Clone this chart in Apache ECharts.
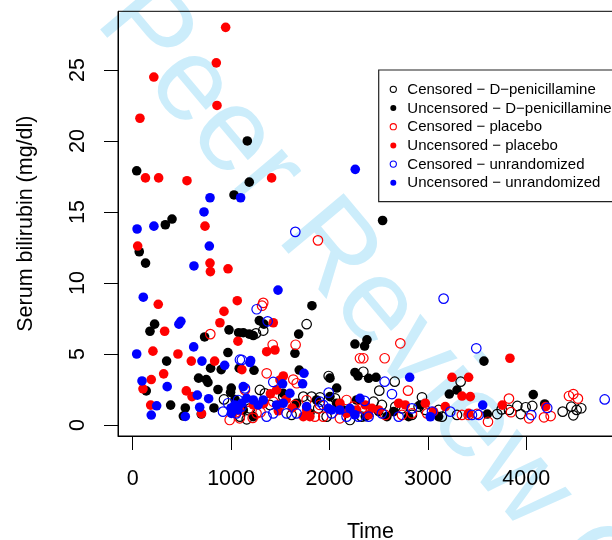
<!DOCTYPE html>
<html>
<head>
<meta charset="utf-8">
<script src="https://cdn.jsdelivr.net/npm/echarts@6/dist/echarts.min.js"></script>
<style>html,body{margin:0;padding:0;background:#fff}#c{width:612px;height:540px}</style>
</head>
<body>
<div id="c"></div>
<script>
// ---- tick labels ----
const xTicks = [0, 1000, 2000, 3000, 4000];
const yTicks = [0, 5, 10, 15, 20, 25];
const xTitle = 'Time';
const yTitle = 'Serum bilirubin (mg/dl)';
const legendLabels = [
  'Censored \u2212 D\u2212penicillamine',
  'Uncensored \u2212 D\u2212penicillamine',
  'Censored \u2212 placebo',
  'Uncensored \u2212 placebo',
  'Censored \u2212 unrandomized',
  'Uncensored \u2212 unrandomized'
];
const watermark = 'For Peer Review Only';

// ---- data: [time (days), bilirubin (mg/dl)] ----
const censDpen = [
  [1253,6.45],[1327,6.65],[1768,7.1],[928,1.8],[1992,3.45],[2344,3.75],[2663,3.05],[3333,3.05],
  [1903,1.95],[2506,2.42],[2940,1.95],[2449,1.64],
  [4370,0.94],[4457,1.29],[4512,1.06],[4559,1.18],[4478,0.68],[3909,1.34],[3994,1.25],[4061,1.34],
  [3943,0.77],[3705,0.77],[3824,1.06],[3750,1.1],
  [1090,0.59],[1192,1.17],[1293,2.47],[1344,2.23],[1395,1.41],[1530,2.0],[1615,0.71],[1734,2.0],
  [1818,2.0],[1886,1.17],[2056,1.88],[1971,0.59],[2327,0.59],[2208,0.35],
  [2533,1.41],[2669,1.29],[2737,1.17],[2906,1.29],[2838,0.71],[3143,0.59],[3296,0.71],[2974,1.06],
  [3109,1.06],[1159,0.4]
];
const uncDpen = [
  [41,17.9],[67,12.2],[131,11.4],[332,14.1],[400,14.5],[1030,16.2],[1165,20.0],[1185,17.1],[2540,14.4],
  [223,7.1],[176,6.6],[731,6.2],[979,6.7],[1077,6.5],[1185,6.4],[1226,6.3],[1287,7.35],[1334,7.1],
  [1124,6.5],[1822,8.4],[1687,6.4],[968,5.1],[1649,5.05],[2259,5.7],[2381,6.0],[2357,5.56],[3570,4.5],
  [345,4.5],[900,3.9],[792,4.0],[1083,4.0],[1233,3.85],[1693,3.87],[2005,3.3],[2290,3.45],[2259,3.7],
  [2398,3.29],[2473,3.36],[670,3.3],[748,3.2],[765,3.0],
  [138,2.4],[867,2.5],[1002,2.6],[995,2.3],[2073,2.6],[3218,2.18],[3296,2.46],[4071,2.14],
  [386,1.4],[535,1.2],[515,0.63],[697,0.77],[826,1.2],[4187,1.48],[3604,0.77],
  [1124,1.06],[1226,0.59],[1530,2.23],[1666,1.53],[1801,0.82],[1869,1.76],[2005,2.0],[2073,1.53],
  [2140,1.06],[2276,1.76],
  [2364,0.59],[2500,0.94],[2584,0.59],[2804,0.59],[2923,1.41],[3109,0.59],[2652,0.94],
  [1040,1.8],[1110,1.3]
];
const censPlac = [
  [789,6.4],[1327,8.6],[1315,8.4],[1423,5.65],[1362,3.64],[1656,5.65],[1883,13.0],
  [1632,3.2],[1667,2.94],[2310,4.7],[2720,5.75],[2561,4.7],[2344,4.7],[2798,2.42],[3824,1.86],
  [4434,2.04],[4478,2.18],[4525,1.86],[4028,0.47],[4180,0.54],[4248,0.63],[3611,0.23],[3845,0.9],
  [1141,2.47],[1175,1.64],[1259,0.82],[1429,1.64],[1497,1.41],[1649,1.41],[1768,1.76],[1852,0.59],
  [1903,1.41],[2174,1.76],[2242,1.29],[2106,0.47],[1937,0.59],
  [2330,1.17],[2567,0.71],[2737,0.71],[2838,0.82],[2991,0.82],[3346,0.71],[3414,0.71],[3499,0.78],
  [986,0.35],[1088,0.47],[1050,0.9],[1220,0.5],[1300,0.9]
];
const uncPlac = [
  [945,28.0],[850,25.5],[215,24.5],[857,22.5],[74,21.6],[130,17.4],[264,17.4],[552,17.2],[1412,17.4],
  [735,14.0],[51,12.6],[786,11.4],[790,10.8],[969,11.0],
  [260,8.5],[1063,8.75],[928,8.0],[325,6.6],[887,7.2],[1070,5.9],[1429,7.2],[206,5.2],[460,5.0],
  [596,4.5],[833,4.5],[1362,5.16],[1446,5.28],[315,3.6],[189,3.2],[105,2.55],[545,2.4],[603,2.0],
  [183,1.4],[700,0.8],
  [1110,3.9],[1531,3.45],[1497,3.17],[3245,3.36],[3414,3.36],[3347,2.04],[3431,2.0],[3834,4.7],
  [3756,1.4],[4197,1.29],
  [1090,1.06],[1226,1.41],[1463,2.47],[1768,1.06],[1801,0.59],[1734,0.59],[2106,1.53],[2174,0.82],
  [2276,1.06],
  [2364,1.41],[2432,1.17],[2500,1.06],[2703,1.53],[2770,1.41],[2974,1.53],[3058,0.94],[3177,1.29],
  [3414,0.82],[2398,0.71],
  [1330,1.5],[1400,2.2],[1480,1.0],[1560,1.8],[1620,1.2]
];
const censUnr = [
  [1653,13.6],[1260,8.15],[1372,7.3],[1090,4.6],[1110,4.58],[1429,3.03],[1992,2.28],[1903,1.64],
  [3160,8.9],[3492,5.4],[2561,3.05],[2635,2.18],[2357,1.7],[4213,1.2],[4797,1.8],[4051,0.7],
  [1141,2.58],[1361,0.59],[1429,0.82],[1564,0.82],[1666,0.82],[1937,1.41],[2022,0.82],[2174,0.59],
  [2293,0.59],
  [2398,0.59],[2533,0.82],[2703,0.59],[2838,1.17],[3042,0.94],[3228,0.94],[3448,0.71],[3516,0.71],
  [969,1.53],[1020,1.17],[918,0.94],[1071,1.76],[1105,1.29],[1054,0.82]
];
const uncUnr = [
  [2262,18.0],[1097,16.0],[786,16.0],[725,15.0],[216,14.0],[45,13.8],[779,12.6],[623,11.2],[1477,9.5],
  [108,9.0],[470,7.1],[490,7.3],[41,5.0],[620,5.5],[704,4.5],[935,4.2],[1192,4.4],[95,3.1],[351,2.7],
  [657,2.1],[772,1.85],[244,1.35],[189,0.7],[535,0.6],[681,1.25],[1199,4.53],[1741,3.64],[1727,2.9],
  [1524,2.9],[2815,3.36],[3557,1.4],[3025,0.58],[2310,1.88],
  [1124,2.7],[1158,1.88],[1107,1.53],[1226,1.76],[1327,1.76],[1276,1.41],[1463,1.41],[1598,2.23],
  [1530,1.53],[1768,1.29],[1988,1.17],[2022,1.06],[2106,1.06],[2208,1.17],[2259,0.71],
  [1037,1.41],[1071,1.06],[1003,0.82],[1000,1.2]
];

const FONT = '"Liberation Sans", Arial, Helvetica, sans-serif';
const BLACK = '#000000', RED = '#ff0000', BLUE = '#0000ff';

function openSeries(name, data, color) {
  return { name, type: 'scatter', data, symbol: 'circle', symbolSize: 9.5,
    itemStyle: { color: 'rgba(0,0,0,0)', borderColor: color, borderWidth: 1.2, opacity: 1 },
    emphasis: { disabled: true } };
}
function fillSeries(name, data, color) {
  return { name, type: 'scatter', data, symbol: 'circle', symbolSize: 9.6,
    itemStyle: { color: color, opacity: 1 }, emphasis: { disabled: true } };
}

// legend drawn as graphic
const legendColors = [BLACK, BLACK, RED, RED, BLUE, BLUE];
const legendOpen = [true, false, true, false, true, false];
const legendEls = [{
  type: 'rect', shape: { x: 378.7, y: 70, width: 260, height: 131.7 },
  style: { fill: '#fff', stroke: '#222', lineWidth: 1.2 }, z: 50
}];
legendLabels.forEach((t, i) => {
  const cy = 89.3 + i * 18.7;
  legendEls.push(legendOpen[i]
    ? { type: 'circle', shape: { cx: 393.3, cy, r: 3.1 }, style: { fill: 'none', stroke: legendColors[i], lineWidth: 1.1 }, z: 51 }
    : { type: 'circle', shape: { cx: 393.3, cy, r: 3.0 }, style: { fill: legendColors[i] }, z: 51 });
  legendEls.push({ type: 'text', x: 407.3, y: cy + 0.5, z: 51,
    style: { text: t, font: '15px ' + FONT, fill: '#000', align: 'left', verticalAlign: 'middle' } });
});

// watermark geometry (rotated text, baseline running down-right)
const wmSize = 118, wmAngle = 50 * Math.PI / 180;
const dx = Math.cos(wmAngle), dy = Math.sin(wmAngle);
const prefix = 1.855 * wmSize; // advance of "For " plus stem offset of "P"
const ox = 95 - prefix * dx + 0.33 * wmSize * dy;
const oy = 33 - prefix * dy - 0.33 * wmSize * dx;

const chart = echarts.init(document.getElementById('c'), null, { renderer: 'canvas' });
chart.setOption({
  animation: false,
  backgroundColor: '#fff',
  grid: { left: 118, top: 11.3, width: 505, height: 424.7, show: true,
    outerBoundsMode: 'none', containLabel: false,
    borderColor: '#000', borderWidth: 1, backgroundColor: 'rgba(0,0,0,0)', z: 1 },
  xAxis: {
    type: 'value', min: -149, max: 4983,
    name: xTitle, nameLocation: 'middle', nameGap: 85,
    nameTextStyle: { fontSize: 21.5, fontFamily: FONT, color: '#000' },
    axisLine: { show: true, onZero: false, lineStyle: { color: '#000', width: 1 } },
    splitLine: { show: false },
    axisTick: { show: true, inside: false, length: 14, customValues: xTicks, lineStyle: { color: '#000', width: 1 } },
    axisLabel: { show: true, customValues: xTicks, margin: 32.5, fontSize: 21.5, fontFamily: FONT, color: '#000',
      formatter: v => String(v) }
  },
  yAxis: {
    type: 'value', min: -0.775, max: 29.13,
    name: yTitle, nameLocation: 'middle', nameGap: 81,
    nameTextStyle: { fontSize: 21.5, fontFamily: FONT, color: '#000' },
    axisLine: { show: true, onZero: false, lineStyle: { color: '#000', width: 1 } },
    splitLine: { show: false },
    axisTick: { show: true, inside: false, length: 14, customValues: yTicks, lineStyle: { color: '#000', width: 1 } },
    axisLabel: { show: true, customValues: yTicks, rotate: 90, align: 'center', margin: 29, fontSize: 21.5,
      fontFamily: FONT, color: '#000', formatter: v => String(v) }
  },
  graphic: [
    { type: 'text', x: ox, y: oy, rotation: -wmAngle, z: -10, silent: true,
      style: { text: watermark, font: wmSize + 'px ' + FONT, fill: '#ccedfb', align: 'left', verticalAlign: 'middle' } }
  ].concat(legendEls),
  series: [
    openSeries(legendLabels[0], censDpen, BLACK),
    fillSeries(legendLabels[1], uncDpen, BLACK),
    openSeries(legendLabels[2], censPlac, RED),
    fillSeries(legendLabels[3], uncPlac, RED),
    openSeries(legendLabels[4], censUnr, BLUE),
    fillSeries(legendLabels[5], uncUnr, BLUE)
  ]
});
</script>
</body>
</html>
